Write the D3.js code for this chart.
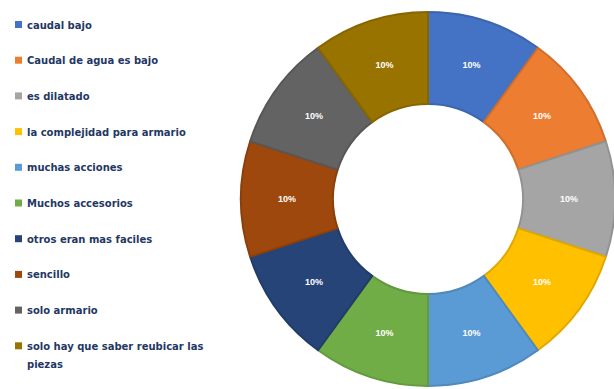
<!DOCTYPE html>
<html>
<head>
<meta charset="utf-8">
<script src="https://cdn.jsdelivr.net/npm/d3@7"></script>
<style>
  html, body { margin: 0; padding: 0; background: #ffffff; }
  svg { display: block; }
</style>
</head>
<body>
<div id="chart"></div>
<script>
// Response categories and their shares of the total
const categories = [
  "caudal bajo",
  "Caudal de agua es bajo",
  "es dilatado",
  "la complejidad para armario",
  "muchas acciones",
  "Muchos accesorios",
  "otros eran mas faciles",
  "sencillo",
  "solo armario",
  "solo hay que saber reubicar las piezas"
];
const values = [1, 1, 1, 1, 1, 1, 1, 1, 1, 1];
const colors = [
  "#4472C4", "#ED7D31", "#A5A5A5", "#FFC000", "#5B9BD5",
  "#70AD47", "#264478", "#9E480E", "#636363", "#997300"
];

const width = 614, height = 389;
const svg = d3.select("#chart").append("svg")
  .attr("width", width)
  .attr("height", height);

const data = categories.map((c, i) => ({ name: c, value: values[i], color: colors[i] }));
const total = d3.sum(values);

// Donut ring
const cx = 428, cy = 199, outerR = 187, innerR = 95;
const pie = d3.pie().value(d => d.value).sort(null);
const arc = d3.arc().innerRadius(innerR).outerRadius(outerR);
const labelArc = d3.arc().innerRadius((innerR + outerR) / 2).outerRadius((innerR + outerR) / 2);

const g = svg.append("g").attr("transform", `translate(${cx},${cy})`);
const slices = g.selectAll("g.slice").data(pie(data)).join("g").attr("class", "slice");

slices.append("path")
  .attr("d", arc)
  .attr("fill", d => d.data.color)
  .attr("stroke", d => d3.color(d.data.color).darker(0.35))
  .attr("stroke-width", 2)
  .attr("stroke-linejoin", "round");

const pct = d3.format(".0%");
slices.append("text")
  .attr("transform", d => `translate(${labelArc.centroid(d)})`)
  .attr("text-anchor", "middle")
  .attr("dy", "0.35em")
  .attr("fill", "#ffffff")
  .attr("font-family", "Liberation Sans, Arial, sans-serif")
  .attr("font-size", 9)
  .attr("font-weight", "bold")
  .text(d => pct(d.data.value / total));

// Legend
const legendX = 15, legendY0 = 25, legendStep = 35.7;
const legend = svg.append("g").attr("font-family", "DejaVu Sans, sans-serif")
  .attr("font-size", 10)
  .attr("font-weight", "bold")
  .attr("fill", "#1F3864");

const wrapWidth = 182;
data.forEach((d, i) => {
  const y = legendY0 + i * legendStep;
  legend.append("rect")
    .attr("x", legendX).attr("y", y - 4)
    .attr("width", 7).attr("height", 7)
    .attr("fill", d.color);
  const t = legend.append("text")
    .attr("x", legendX + 12).attr("y", y)
    .attr("dy", "0.35em");
  // simple word wrap for long labels
  const words = d.name.split(" ");
  let line = [];
  let tspan = t.append("tspan").attr("x", legendX + 12);
  words.forEach(w => {
    line.push(w);
    tspan.text(line.join(" "));
    if (tspan.node().getComputedTextLength() > wrapWidth && line.length > 1) {
      line.pop();
      tspan.text(line.join(" "));
      line = [w];
      tspan = t.append("tspan").attr("x", legendX + 12).attr("dy", 18).text(w);
    }
  });
});
</script>
</body>
</html>
